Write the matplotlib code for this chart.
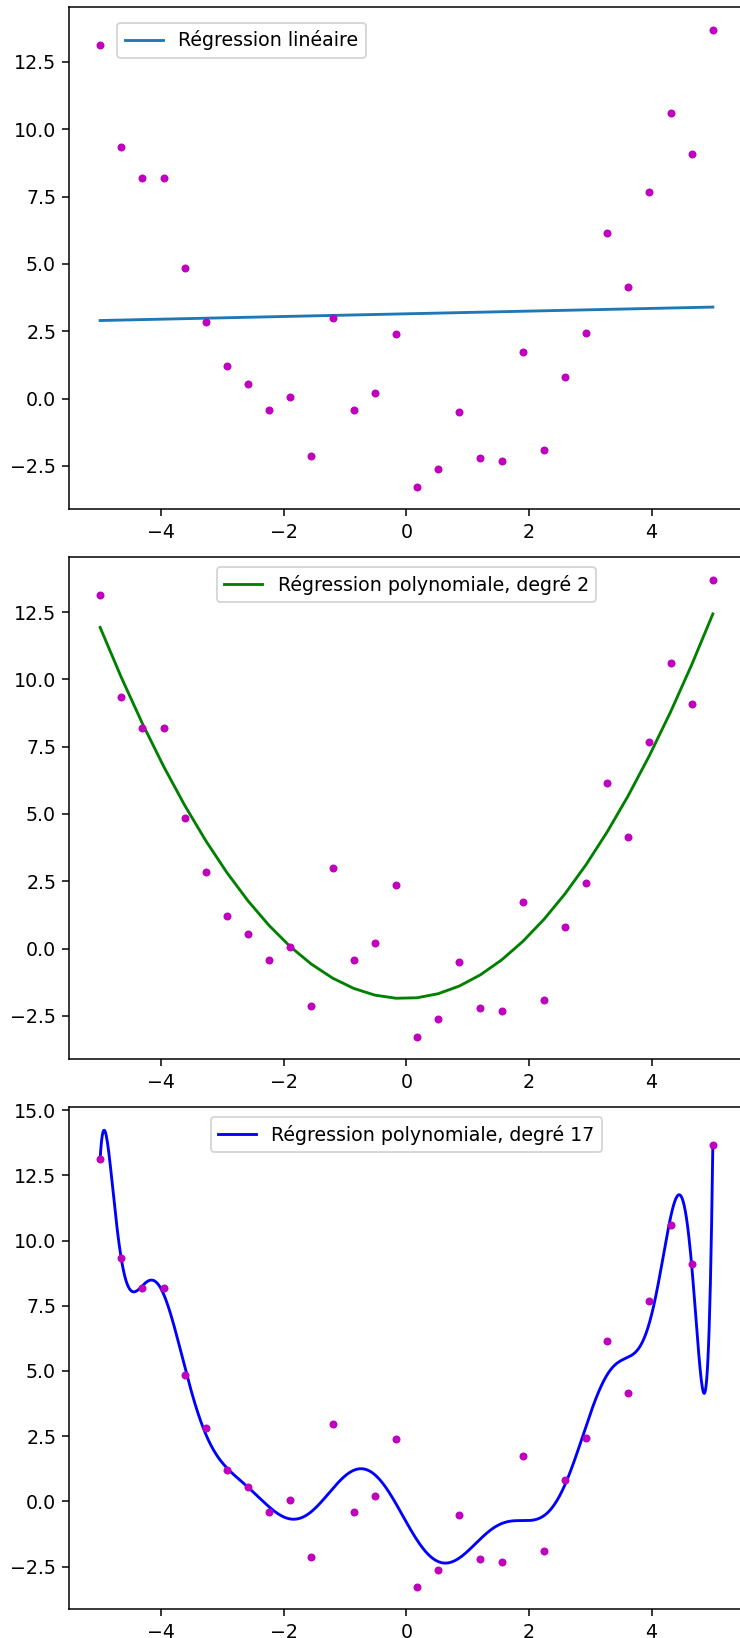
import numpy as np
import matplotlib
matplotlib.use('Agg')
import matplotlib.pyplot as plt

# donnees
x = np.linspace(-5, 5, 30)
y = np.array([13.13, 9.33, 8.18, 8.18, 4.85, 2.83, 1.22, 0.55, -0.41, 0.05,
              -2.12, 2.98, -0.41, 0.21, 2.38, -3.27, -2.62, -0.51, -2.22, -2.31,
              1.73, -1.92, 0.81, 2.43, 6.16, 4.14, 7.67, 10.61, 9.09, 13.68])

labels = ['Régression linéaire',
          'Régression polynomiale, degré 2',
          'Régression polynomiale, degré 17']
degres = [1, 2, 17]
couleurs = ['C0', 'g', 'b']

dpi = 137
fig = plt.figure(figsize=(740 / dpi, 1638 / dpi), dpi=dpi)

bas = [0.6890, 0.3532, 0.0174]
axes = [fig.add_axes([0.0939, b, 0.9108, 0.3065]) for b in bas]

# regression lineaire
ax = axes[0]
coef = np.polyfit(x, y, degres[0])
ax.plot(x, np.polyval(coef, x), color=couleurs[0], label=labels[0])
ax.plot(x, y, 'o', color='m', ms=4.2, mew=0)
ax.legend(loc='upper left', bbox_to_anchor=(0.0709, 0.9697), borderaxespad=0)

# degre 2
ax = axes[1]
coef = np.polyfit(x, y, degres[1])
ax.plot(x, np.polyval(coef, x), color=couleurs[1], label=labels[1])
ax.plot(x, y, 'o', color='m', ms=4.2, mew=0)
ax.legend(loc='upper center')

# degre 17
ax = axes[2]
p = np.polynomial.Polynomial.fit(x, y, degres[2])
xf = np.linspace(-5, 5, 1000)
ax.plot(xf, p(xf), color=couleurs[2], label=labels[2])
ax.plot(x, y, 'o', color='m', ms=4.2, mew=0)
ax.legend(loc='upper center')

fig.savefig('out.png', dpi=dpi)
